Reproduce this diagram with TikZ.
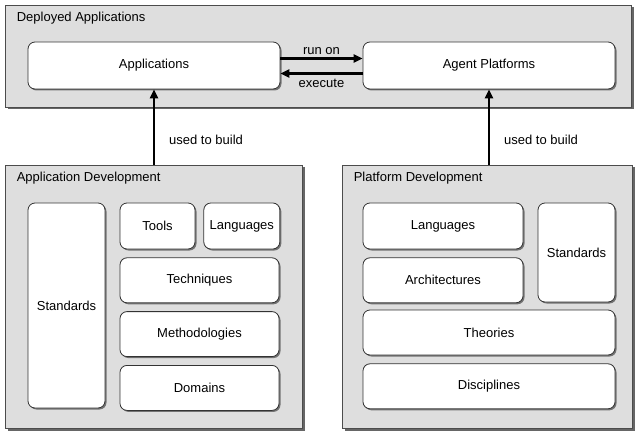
\documentclass[tikz,border=0pt]{standalone}
\usepackage{fontspec}
\setmainfont{Liberation Sans}
\usetikzlibrary{positioning,shadows,arrows.meta}
\tikzset{font=\fontsize{13}{15}\selectfont}

\begin{document}
\begin{tikzpicture}[x=1pt,y=-1pt,
    panel/.style={draw=black!70,fill=black!13,line width=0.8pt,inner sep=0pt,
      drop shadow={shadow xshift=2.5pt,shadow yshift=-2.5pt,fill=black!60,opacity=1}},
    box/.style={draw=black!80,fill=white,rounded corners=7pt,line width=0.8pt,inner sep=0pt,align=center,
      drop shadow={shadow xshift=1.5pt,shadow yshift=-1.5pt,fill=black!55,opacity=1}},
    title/.style={anchor=base west,inner sep=0pt},
    arr/.style={-{Triangle[length=9pt,width=8pt]},line width=2.4pt},
    lbl/.style={inner sep=0pt}]
    \useasboundingbox (0,0) rectangle (635,433);

    % deployed applications
    \node[panel,minimum width=626pt,minimum height=102pt] (depl) at (318,56) {};
    \node[title] (depltitle) at ([xshift=12pt,yshift=-17pt]depl.north west) {Deployed Applications};
    \node[box,minimum width=252pt,minimum height=47pt] (apps) at (154,65.5) {Applications};
    \node[box,minimum width=252pt,minimum height=47pt] (agent) at (489,65.5) {Agent Platforms};

    \draw[arr] ([yshift=7pt]apps.east) -- node[lbl,above=3pt] (runon) {run on} ([yshift=7pt]agent.west);
    \draw[arr] ([yshift=-8pt]agent.west) -- node[lbl,below=4pt] (exec) {execute} ([yshift=-8pt]apps.east);

    % application development
    \node[panel,minimum width=297pt,minimum height=263pt] (appdev) at (153.5,296.5) {};
    \node[title] (appdevtitle) at ([xshift=12pt,yshift=-17pt]appdev.north west) {Application Development};
    \node[box,minimum width=77pt,minimum height=205pt] (astd) at (66.5,305.5) {Standards};
    \node[box,minimum width=75pt,minimum height=46pt] (tools) at (157.5,226) {Tools};
    \node[box,minimum width=76pt,minimum height=46pt,right=8pt of tools] (alang) {Languages};
    \node[box,minimum width=159pt,minimum height=45pt,below right=8pt and 0pt of tools.south west] (tech) {Techniques};
    \node[box,minimum width=159pt,minimum height=45pt,below=8pt of tech] (meth) {Methodologies};
    \node[box,minimum width=159pt,minimum height=45pt,below=8pt of meth] (dom) {Domains};

    % platform development
    \node[panel,minimum width=290pt,minimum height=263pt] (platdev) at (487,296.5) {};
    \node[title] (platdevtitle) at ([xshift=12pt,yshift=-17pt]platdev.north west) {Platform Development};
    \node[box,minimum width=160pt,minimum height=46pt] (plang) at (443,226) {Languages};
    \node[box,minimum width=160pt,minimum height=45pt,below=8pt of plang] (arch) {Architectures};
    \node[box,minimum width=77pt,minimum height=99pt] (pstd) at (576.5,252.5) {Standards};
    \node[box,minimum width=252pt,minimum height=45pt] (theo) at (489,332.5) {Theories};
    \node[box,minimum width=252pt,minimum height=45pt,below=8pt of theo] (disc) {Disciplines};

    % used to build
    \draw[arr] (appdev.north -| apps.south) -- node[lbl,pos=0.33,right=14pt] (abuild) {used to build} (apps.south);
    \draw[arr] (platdev.north -| agent.south) -- node[lbl,pos=0.33,right=14pt] (pbuild) {used to build} (agent.south);
\end{tikzpicture}
\end{document}
